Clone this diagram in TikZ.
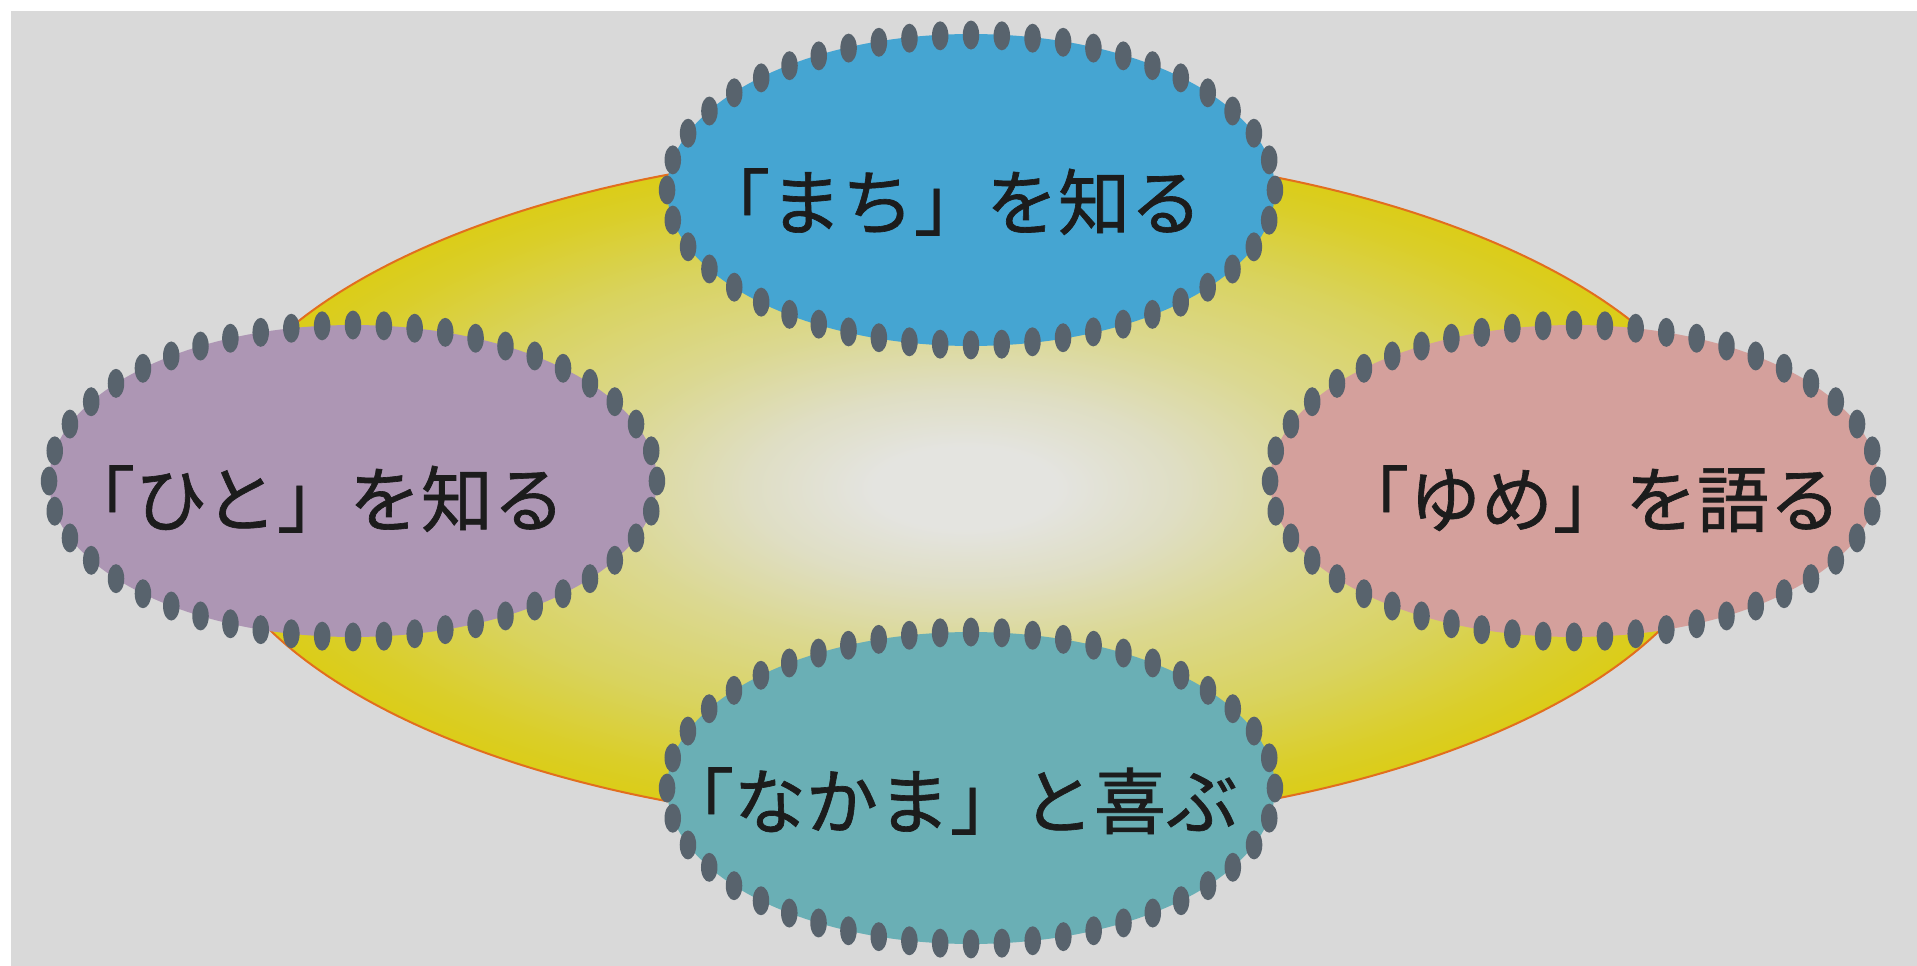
\documentclass[tikz,border=0pt]{standalone}
\usepackage{fontspec}
\newfontfamily\jp[FakeBold=0.9]{Noto Sans CJK JP}
\usetikzlibrary{shapes.geometric,decorations.markings}
\definecolor{bg}{RGB}{217,217,217}
\definecolor{yl0}{RGB}{228,228,224}
\definecolor{yl1}{RGB}{223,222,196}
\definecolor{yl2}{RGB}{219,216,145}
\definecolor{yl3}{RGB}{217,211,95}
\definecolor{yl4}{RGB}{218,206,40}
\definecolor{yl5}{RGB}{220,203,0}
\definecolor{edge}{RGB}{226,110,30}
\definecolor{cblue}{RGB}{69,165,210}
\definecolor{cpurple}{RGB}{173,150,180}
\definecolor{cpink}{RGB}{212,160,156}
\definecolor{cteal}{RGB}{106,175,181}
\definecolor{dotc}{RGB}{88,99,109}
\definecolor{txt}{RGB}{28,28,28}
\pgfdeclareradialshading{yglow}{\pgfpoint{0bp}{0bp}}{color(0bp)=(yl0); color(3bp)=(yl0); color(7bp)=(yl1); color(12bp)=(yl2); color(18bp)=(yl3); color(23bp)=(yl4); color(28bp)=(yl5); color(50bp)=(yl5)}
\tikzset{
  bubble/.style={ellipse, inner sep=0pt, outer sep=0pt, minimum width=12.16cm, minimum height=6.24cm},
  dotring/.style={decorate, decoration={markings,
     mark=between positions 0 and 0.99 step 0.0208333 with {\pgftransformresetnontranslations
       \fill[dotc] (0,0) ellipse [x radius=0.165cm, y radius=0.29cm];}}},
  lbl/.style={font=\jp\fontsize{41}{44}\selectfont, text=txt, inner sep=0pt},
  bigring/.style={shade, shading=yglow, draw=edge, line width=0.04cm}
}
\begin{document}
\begin{tikzpicture}[x=0.02cm,y=-0.02cm]
\useasboundingbox (0,0) rectangle (1917,966);
\fill[white] (0,0) rectangle (1917,966);
\fill[bg] (11,11) rectangle (1917,966);
% central glow ellipse
\path[bigring] (965,488) ellipse [x radius=15.3cm, y radius=6.8cm];
% bubbles
\node[bubble, fill=cblue] (machi) at (971,190) {};
\node[bubble, fill=cpurple] (hito) at (353,481) {};
\node[bubble, fill=cpink] (yume) at (1574,481) {};
\node[bubble, fill=cteal] (nakama) at (971,788) {};
\path[dotring] (machi.center) ellipse [x radius=6.08cm, y radius=3.1cm];
\path[dotring] (hito.center) ellipse [x radius=6.08cm, y radius=3.12cm];
\path[dotring] (yume.center) ellipse [x radius=6.08cm, y radius=3.12cm];
\path[dotring] (nakama.center) ellipse [x radius=6.08cm, y radius=3.12cm];
% labels
\node[lbl] (machit) at (950,202) {「まち」を知る};
\node[lbl] (hitot) at (314,499) {「ひと」を知る};
\node[lbl] (yumet) at (1589,499) {「ゆめ」を語る};
\node[lbl] (nakamat) at (950,801) {「なかま」と喜ぶ};
\end{tikzpicture}
\end{document}
